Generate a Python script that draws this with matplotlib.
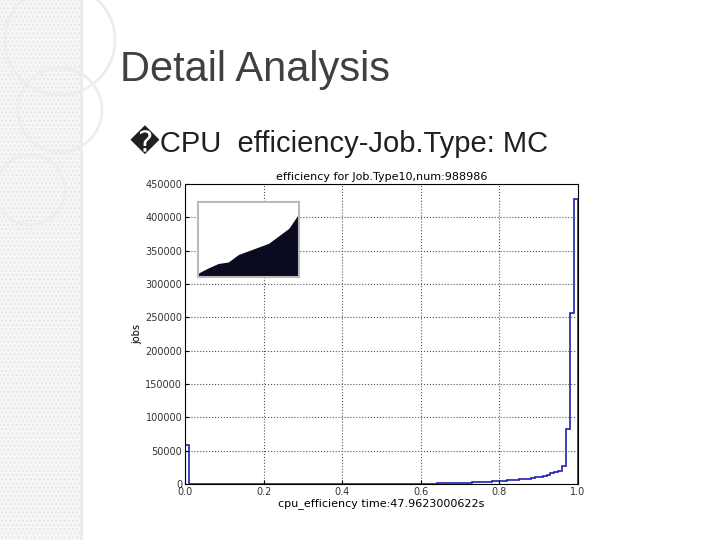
import matplotlib
matplotlib.use("Agg")
import matplotlib.pyplot as plt
from matplotlib.patches import Rectangle, Circle

bin_edges = [i / 100 for i in range(101)]
counts = ([58000] + [300] * 59 +
          [400, 500, 600, 700, 800, 900, 1000, 1100, 1300, 1500,
           1700, 1900, 2100, 2400, 2700, 3000, 3300, 3600, 4000, 4400,
           4800, 5200, 5600, 6000, 6500, 7000, 7500, 8000, 9000, 10000,
           11000, 12000, 14000, 16000, 18000, 20000, 27000, 83000, 256000, 428000])

inset_x = [0.0, 0.1, 0.2, 0.3, 0.4, 0.5, 0.6, 0.7, 0.8, 0.9, 0.95, 1.0]
inset_top = [0.05, 0.12, 0.18, 0.2, 0.3, 0.35, 0.4, 0.45, 0.55, 0.65, 0.75, 0.85]

fig = plt.figure(figsize=(7.2, 5.4), dpi=100)
fig.patch.set_facecolor("white")
bg = fig.add_axes([0, 0, 1, 1], zorder=-5)
bg.set_xlim(0, 720); bg.set_ylim(540, 0); bg.axis("off")
bg.add_patch(Rectangle((0, 0), 80, 540, facecolor="#f6f6f6", edgecolor="#e6e6e6", hatch="....", lw=0))
bg.add_patch(Rectangle((80, 0), 3, 540, facecolor="#ececec", lw=0))
for (cx, cy, r) in [(60, 40, 55), (60, 110, 42), (30, 190, 35)]:
    bg.add_patch(Circle((cx, cy), r, fill=False, edgecolor="#ededed", lw=2))
fig.text(120 / 720, 1 - 70 / 540, "Detail Analysis", fontsize=30, color="#404040", va="center", family="Liberation Sans")
fig.text(130 / 720, 1 - 142 / 540, "\ufffdCPU  efficiency-Job.Type: MC", fontsize=21, color="#202020", va="center", family=["Liberation Sans", "DejaVu Sans"])

ax = fig.add_axes([185 / 720, 1 - 484 / 540, 393 / 720, 300 / 540])
ax.stairs(counts, bin_edges, color="#2020b0", lw=1.2)
ax.set_xlim(0, 1); ax.set_ylim(0, 450000)
ax.set_xticks([0, 0.2, 0.4, 0.6, 0.8, 1.0])
ax.set_xticklabels(["0.0", "0.2", "0.4", "0.6", "0.8", "1.0"])
ax.set_yticks(range(0, 450001, 50000))
ax.tick_params(labelsize=7, length=3, direction="in", pad=2, labelcolor="#333")
ax.grid(True, ls=":", color="#555", lw=0.8)
ax.set_title("efficiency for Job.Type10,num:988986", fontsize=8, pad=3)
ax.set_xlabel("cpu_efficiency time:47.9623000622s", fontsize=8, labelpad=1)
ax.set_ylabel("jobs", fontsize=7, labelpad=2)

ins = fig.add_axes([198 / 720, 1 - 277 / 540, 101 / 720, 75 / 540])
ins.fill_between(inset_x, 0, inset_top, color="#0a0a20", lw=0)
ins.set_xlim(0, 1); ins.set_ylim(0, 1)
ins.set_xticks([]); ins.set_yticks([])
for s in ins.spines.values():
    s.set_color("#bbbbbb"); s.set_linewidth(1.5)
fig.savefig("out.png", dpi=100)
